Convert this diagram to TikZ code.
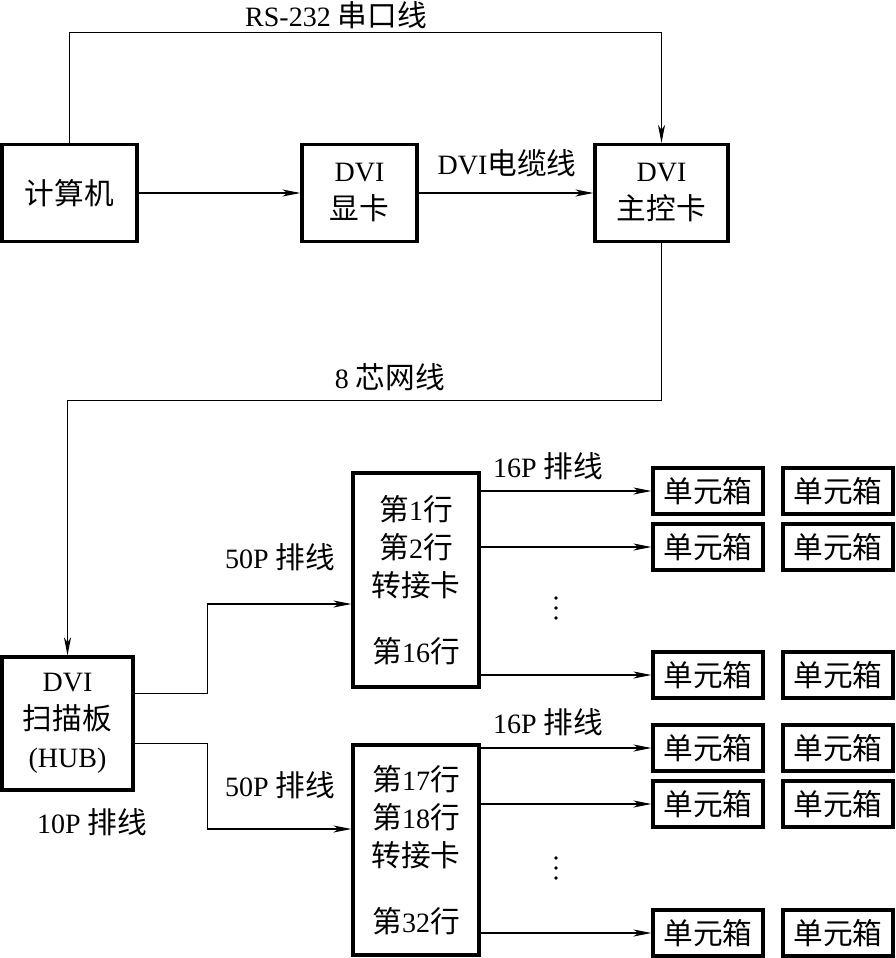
\documentclass[tikz,border=0pt]{standalone}
\usepackage{fontspec}
\setmainfont{Liberation Serif}
\newfontfamily\cjk[Scale=1.06]{Noto Sans CJK SC}
\newcommand{\zh}[1]{{\cjk #1}}
\usetikzlibrary{positioning,arrows.meta}

\tikzset{
  boite/.style={draw, line width=3.2pt, inner sep=0pt, align=center,
                font=\fontsize{28}{38}\selectfont},
  unite/.style={boite, minimum width=110pt, minimum height=46pt},
  fil/.style={line width=1.2pt, -{Stealth[length=18pt,width=7pt,inset=5pt]}},
  legende/.style={inner sep=0pt, font=\fontsize{28}{34}\selectfont},
}

\begin{document}
\begin{tikzpicture}[x=1pt,y=-1pt]
  \useasboundingbox (0,0) rectangle (896,958);
  % Chaine du haut : ordinateur, carte graphique, carte maitre
  \node[boite, minimum width=135pt, minimum height=97pt] (ordi) at (69.5,193)
    {\zh{计算机}};
  \node[boite, minimum width=115pt, minimum height=97pt] (carteg) at (359.5,193)
    {DVI\\\zh{显卡}};
  \node[boite, minimum width=133pt, minimum height=97pt] (maitre) at (661.5,193)
    {DVI\\\zh{主控卡}};
  \node[legende] (rs) at (336,15) {RS-232 \zh{串口线}};
  \node[legende] (dvi) at (507,163) {DVI\zh{电缆线}};
  \draw[fil] (ordi.north) -- ++(0,-110) -| (maitre.north);
  \draw[fil] (ordi) -- (carteg);
  \draw[fil] (carteg) -- (maitre);
  % Carte de balayage et ses deux cartes relais
  \node[boite, minimum width=131pt, minimum height=133pt] (hub) at (67.5,723.5)
    {DVI\\\zh{扫描板}\\(HUB)};
  \node[legende] (reseau) at (390,377) {8 \zh{芯网线}};
  \draw[fil] (maitre.south) -- ++(0,157) -| (hub.north);
  \node[boite, minimum width=126pt, minimum height=214pt] (relaisA) at (416,580)
    {\zh{第}1\zh{行}\\\zh{第}2\zh{行}\\\zh{转接卡}\\[28pt]\zh{第}16\zh{行}};
  \node[boite, minimum width=126pt, minimum height=210pt] (relaisB) at (416,850)
    {\zh{第}17\zh{行}\\\zh{第}18\zh{行}\\\zh{转接卡}\\[28pt]\zh{第}32\zh{行}};
  \node[legende] (nappeA) at (280,557) {50P \zh{排线}};
  \node[legende] (nappeB) at (280,785) {50P \zh{排线}};
  \node[legende] (nappeH) at (92,822) {10P \zh{排线}};
  \draw[fil] ([yshift=30pt]hub.east) -- ++(73,0) |- ([yshift=-24pt]relaisA.west);
  \draw[fil] ([yshift=-20pt]hub.east) -- ++(73,0) |- ([yshift=21pt]relaisB.west);
  % Rangees de boites unitaires
  \foreach \r/\y in {1/491,2/547,3/675} {
    \node[unite] (uA\r) at (708,\y) {\zh{单元箱}};
    \node[unite] (vA\r) at (838,\y) {\zh{单元箱}};
    \draw[fil] (relaisA.east |- uA\r.west) -- (uA\r.west);
  }
  \foreach \r/\y in {1/748,2/804,3/933} {
    \node[unite] (uB\r) at (708,\y) {\zh{单元箱}};
    \node[unite] (vB\r) at (838,\y) {\zh{单元箱}};
    \draw[fil] (relaisB.east |- uB\r.west) -- (uB\r.west);
  }
  \node[legende] (seizeA) at (548,466) {16P \zh{排线}};
  \node[legende] (seizeB) at (548,722) {16P \zh{排线}};
  % Points de suspension verticaux
  \foreach \d in {-10,0,10} {
    \fill (556,608+\d) circle (1.8pt);
    \fill (556,868+\d) circle (1.8pt);
  }
\end{tikzpicture}
\end{document}
